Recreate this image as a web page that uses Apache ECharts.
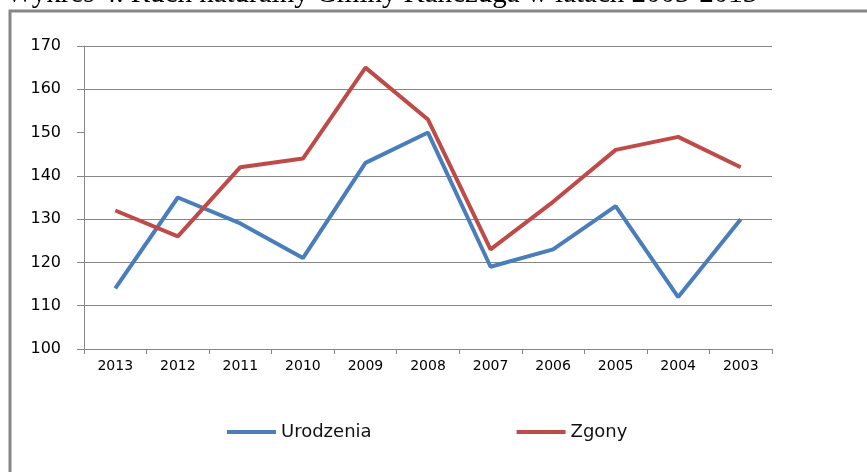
<!DOCTYPE html>
<html>
<head>
<meta charset="utf-8">
<script src="https://cdn.jsdelivr.net/npm/echarts@6/dist/echarts.min.js"></script>
<style>
  html, body { margin: 0; padding: 0; background: #fff; }
  #main { width: 867px; height: 472px; }
</style>
</head>
<body>
<div id="main"></div>
<script>
// dane: ruch naturalny 2013 -> 2003
var years = ['2013', '2012', '2011', '2010', '2009', '2008', '2007', '2006', '2005', '2004', '2003']
var urodzenia = [114, 135, 129, 121, 143, 150, 119, 123, 133, 112, 130]
var zgony = [132, 126, 142, 144, 165, 153, 123, 134, 146, 149, 142]
var yTicks = [100, 110, 120, 130, 140, 150, 160, 170]

var titleText = 'Wykres 4. Ruch naturalny Gminy Kańczuga w latach 2003-2013'

var main = document.getElementById('main')
var myChart = echarts.init(main, null, { renderer: 'canvas' })

// na oryginale brak linii siatki dla 150
var gridColors = yTicks.map(function (v) {
  return v === 150 ? '#ffffff' : '#868686'
})

myChart.setOption({
  backgroundColor: '#fff',
  animation: false,
  graphic: [
    {
      type: 'text',
      left: 6,
      top: -20,
      style: {
        text: titleText,
        font: '29px "Liberation Serif", serif',
        fill: '#000'
      }
    },
    {
      type: 'rect',
      shape: { x: 10, y: 11, width: 880, height: 480 },
      style: { fill: 'none', stroke: '#868686', lineWidth: 3 }
    }
  ],
  grid: {
    left: 84,
    right: 95,
    top: 46,
    bottom: 123,
    containLabel: false
  },
  legend: {
    left: 222,
    top: 418,
    itemWidth: 49,
    itemHeight: 4,
    itemGap: 145,
    icon: 'rect',
    textStyle: {
      fontFamily: 'DejaVu Sans',
      fontSize: 18,
      color: '#111'
    },
    data: ['Urodzenia', 'Zgony']
  },
  xAxis: {
    type: 'category',
    data: years,
    boundaryGap: true,
    axisLine: { lineStyle: { color: '#868686', width: 1 } },
    axisTick: { show: true, length: 5, lineStyle: { color: '#868686' } },
    axisLabel: {
      margin: 10,
      fontFamily: 'DejaVu Sans',
      fontSize: 14,
      color: '#000'
    },
    splitLine: { show: false }
  },
  yAxis: {
    type: 'value',
    min: 100,
    max: 170,
    interval: 10,
    axisLine: { show: true, lineStyle: { color: '#868686', width: 1 } },
    axisTick: { show: true, length: 7, lineStyle: { color: '#868686' } },
    axisLabel: {
      margin: 23,
      fontFamily: 'DejaVu Sans',
      fontSize: 16,
      color: '#000'
    },
    splitLine: { show: true, lineStyle: { color: gridColors, width: 1 } }
  },
  series: [
    {
      name: 'Urodzenia',
      type: 'line',
      data: urodzenia,
      symbol: 'none',
      color: '#4a7ebb',
      lineStyle: { color: '#4a7ebb', width: 4 }
    },
    {
      name: 'Zgony',
      type: 'line',
      data: zgony,
      symbol: 'none',
      color: '#be4b48',
      lineStyle: { color: '#be4b48', width: 4 }
    }
  ]
})
</script>
</body>
</html>
